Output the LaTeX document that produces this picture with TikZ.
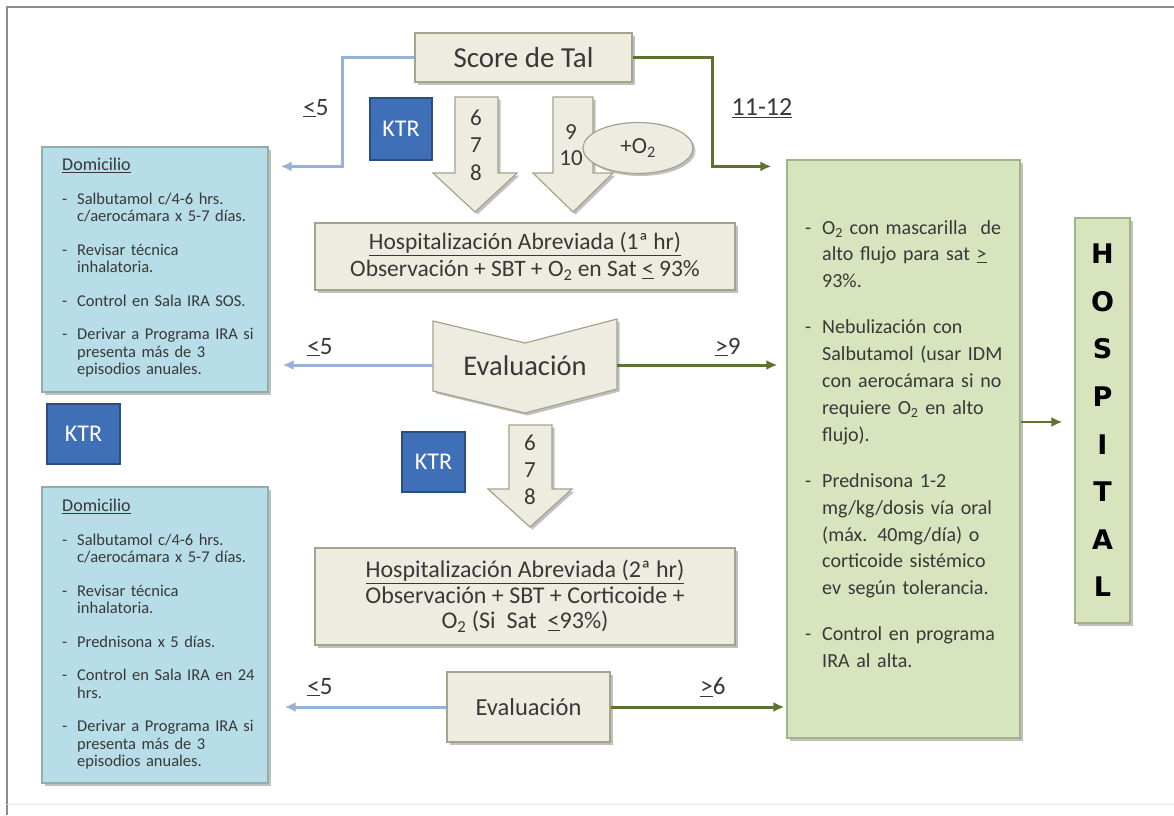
\documentclass[tikz,border=0pt]{standalone}
\usepackage{fontspec}
\setmainfont{Carlito}
\newfontfamily\hospfont{DejaVu Sans}
\usetikzlibrary{shapes.geometric,arrows.meta,shadows}

\definecolor{beige}{HTML}{EEECE1}
\definecolor{beigeline}{HTML}{A4A48C}
\definecolor{domfill}{HTML}{B7DEE8}
\definecolor{domline}{HTML}{8FAFA8}
\definecolor{ktrfill}{HTML}{3F6FB6}
\definecolor{ktrline}{HTML}{2B4E80}
\definecolor{hospfill}{HTML}{D7E4BD}
\definecolor{hospline}{HTML}{A2B384}
\definecolor{lowblue}{HTML}{95B3D7}
\definecolor{highgreen}{HTML}{5C722E}
\definecolor{txt}{HTML}{383838}

\tikzset{
  shadebox/.style={drop shadow={shadow xshift=2.5pt,shadow yshift=-2.5pt,opacity=.35,fill=black!70}},
  beigebox/.style={draw=beigeline,fill=beige,line width=1.2pt,shadebox,text=txt,align=center},
  dombox/.style={draw=domline,fill=domfill,line width=1.2pt,shadebox},
  ktrbox/.style={draw=ktrline,fill=ktrfill,line width=1.2pt,text=white,
    font=\fontsize{24}{28}\selectfont},
  hospbox/.style={draw=hospline,fill=hospfill,line width=1.2pt,shadebox},
  listtext/.style={anchor=north west,inner sep=0pt,text=txt,align=left},
  score/.style={text=txt,font=\fontsize{25}{29}\selectfont},
  lowarrow/.style={draw=lowblue,line width=3pt,-{Latex[length=11pt,width=10pt]}},
  higharrow/.style={draw=highgreen,line width=3pt,-{Latex[length=11pt,width=10pt]}}
}
\newcommand{\itm}[1]{\par\hangindent=15pt\hangafter=1\noindent\makebox[15pt][l]{-}#1}
\newcommand{\gitm}[1]{\par\hangindent=17pt\hangafter=1\noindent\makebox[17pt][l]{-}#1}

\begin{document}
\begin{tikzpicture}[x=1pt,y=-1pt]
\useasboundingbox[fill=white] (0,0) rectangle (1174,815);
% frame
\draw[black!45,line width=1.5pt] (7,815) -- (7,7) -- (1174,7);
\draw[black!10,line width=1pt] (7,804) -- (1174,804);

% boxes
\node[beigebox,minimum width=217pt,minimum height=49pt,font=\fontsize{29}{33}\selectfont] (score) at (523.5,57.5) {Score de Tal};
\node[dombox,minimum width=226pt,minimum height=245pt] (dom1) at (155,269.5) {};
\node[dombox,minimum width=226pt,minimum height=296pt] (dom2) at (155,635) {};
\node[hospbox,minimum width=233pt,minimum height=578pt] (green) at (903.5,449) {};
\node[hospbox,minimum width=55pt,minimum height=405pt,align=center,
  font=\hospfont\bfseries\fontsize{27}{47.6}\selectfont] (hosp) at (1102.5,420.5)
  {H\\O\\S\\P\\I\\T\\A\\L};
\node[beigebox,minimum width=420pt,minimum height=67pt,font=\fontsize{23.5}{27}\selectfont] (hosp1) at (525,256.5)
  {\underline{Hospitalización Abreviada (1ª hr)}\\Observación + SBT + O\textsubscript{2} en Sat \underline{<} 93\%};
\node[beigebox,minimum width=420pt,minimum height=97pt,font=\fontsize{24}{25.5}\selectfont] (hosp2) at (525,596.5)
  {\underline{Hospitalización Abreviada (2ª hr)}\\Observación + SBT + Corticoide +\\O\textsubscript{2} (Si\ \ Sat \ \underline{<}93\%)};
\node[beigebox,minimum width=163pt,minimum height=70pt,font=\fontsize{24.5}{28}\selectfont] (eval2) at (528.5,707) {Evaluación};

\node[ktrbox,minimum width=62pt,minimum height=62pt] (ktr1) at (401,129) {KTR};
\node[ktrbox,minimum width=73pt,minimum height=60pt] (ktr2) at (83.5,434) {KTR};
\node[ktrbox,minimum width=63pt,minimum height=60pt] (ktr3) at (433.5,462) {KTR};

% big down arrows
\path[draw=beigeline,fill=beige,line width=1.2pt,shadebox] (455,97) -- (498,97) -- (498,173) -- (517,173) -- (475,212) -- (433,173) -- (455,173) -- cycle;
\path[draw=beigeline,fill=beige,line width=1.2pt,shadebox] (553,97) -- (593,97) -- (593,173) -- (613,173) -- (573,212) -- (533,173) -- (553,173) -- cycle;
\path[draw=beigeline,fill=beige,line width=1.2pt,shadebox] (509,425) -- (552,425) -- (552,489) -- (572,489) -- (530,527) -- (488,489) -- (509,489) -- cycle;
\node[score,align=center,font=\fontsize{23}{27.5}\selectfont] (n678a) at (476,145) {6\\7\\8};
\node[score,align=center,font=\fontsize{23}{26}\selectfont] (n910) at (571,145) {9\\10};
\node[score,align=center,font=\fontsize{23}{27}\selectfont] (n678b) at (530,470) {6\\7\\8};
\node[beigebox,ellipse,minimum width=110pt,minimum height=51pt,font=\fontsize{23}{26}\selectfont] (oxy) at (638,148) {+O\textsubscript{2}};

% chevron
\path[draw=beigeline,fill=beige,line width=1.2pt,shadebox] (433,321) -- (525,343) -- (617,319) -- (617,389) -- (525,413) -- (433,391) -- cycle;
\node[score,font=\fontsize{28.5}{32}\selectfont] (eval1) at (525,366) {Evaluación};
\coordinate (ev1w) at (433,365);
\coordinate (ev1e) at (617,365);

% connectors
\draw[lowarrow,shorten >=12pt] (score.west) -- ++(-72,0) |- ([yshift=-20pt]dom1.north east);
\draw[higharrow,shorten >=15pt] (score.east) -- ++(80,0) |- ([yshift=-7pt]green.north west);
\draw[lowarrow,shorten >=14pt] (ev1w) -- (ev1w -| dom1.east);
\draw[higharrow,shorten >=9pt] (ev1e) -- (ev1e -| green.west);
\draw[lowarrow,shorten >=16pt] (eval2.west) -- (eval2.west -| dom2.east);
\draw[higharrow,shorten >=2pt] (eval2.east) -- (eval2.east -| green.west);
\draw[higharrow,line width=2.5pt,shorten >=12pt] ([yshift=27pt]green.east) -- ([yshift=27pt]green.east -| hosp.west);

% labels
\node[score] (l1) at (316,108) {\underline{<}5};
\node[score,font=\fontsize{26}{30}\selectfont] (l2) at (762,108) {\underline{11-12}};
\node[score] (l3) at (320,347) {\underline{<}5};
\node[score] (l4) at (728,347) {\underline{>}9};
\node[score] (l5) at (320,687) {\underline{<}5};
\node[score] (l6) at (713,687) {\underline{>}6};

% list texts
\node[listtext,text width=215pt,font=\fontsize{16.5}{17.5}\selectfont] (dom1txt) at (62,158) {%
\setlength{\parskip}{16pt}{\fontsize{18}{17.5}\selectfont\underline{Domicilio}}
\itm{Salbutamol c/4-6 hrs.\newline c/aerocámara x 5-7 días.}
\itm{Revisar técnica\newline inhalatoria.}
\itm{Control en Sala IRA SOS.}
\itm{Derivar a Programa IRA si\newline presenta más de 3\newline episodios anuales.}\par};
\node[listtext,text width=215pt,font=\fontsize{16.5}{17.5}\selectfont] (dom2txt) at (62,499) {%
\setlength{\parskip}{16pt}{\fontsize{18}{17.5}\selectfont\underline{Domicilio}}
\itm{Salbutamol c/4-6 hrs.\newline c/aerocámara x 5-7 días.}
\itm{Revisar técnica\newline inhalatoria.}
\itm{Prednisona x 5 días.}
\itm{Control en Sala IRA en 24\newline hrs.}
\itm{Derivar a Programa IRA si\newline presenta más de 3\newline episodios anuales.}\par};
\node[listtext,text width=215pt,font=\fontsize{20}{26.8}\selectfont] (greentxt) at (805,220) {%
\setlength{\parskip}{19.5pt}\noindent\makebox[17pt][l]{-}\hangindent=17pt\hangafter=1 O\textsubscript{2} con mascarilla\ \ de\newline alto flujo para sat \underline{>}\newline 93\%.
\gitm{Nebulización con\newline Salbutamol (usar IDM\newline con aerocámara\ si no\newline requiere O\textsubscript{2} en alto\newline flujo).}
\gitm{Prednisona 1-2\newline mg/kg/dosis vía oral\newline (máx. 40mg/día) o\newline corticoide sistémico\newline ev según tolerancia.}
\gitm{Control en programa\newline IRA al alta.}\par};
\end{tikzpicture}
\end{document}
